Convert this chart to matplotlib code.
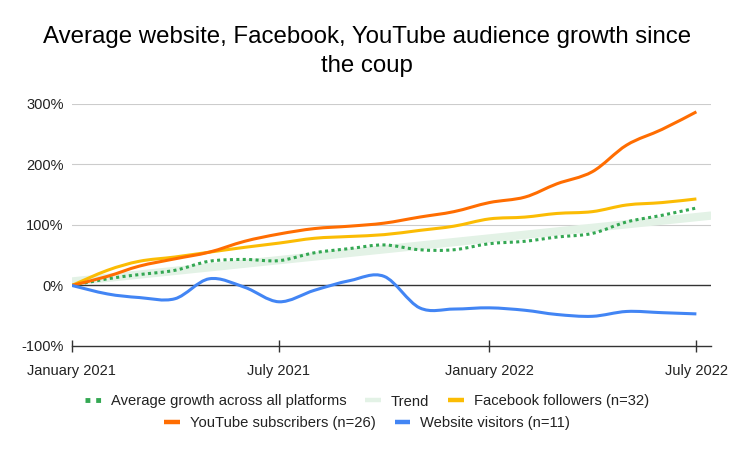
import datetime as dt
import matplotlib
matplotlib.use("Agg")
import matplotlib.pyplot as plt
import matplotlib.dates as mdates
import numpy as np
from matplotlib.path import Path
from matplotlib.patches import PathPatch
from matplotlib.lines import Line2D

plt.rcParams['font.family'] = ['Liberation Sans', 'DejaVu Sans']

# monthly values, Jan 2021 .. Jul 2022 (growth in %)
months = [dt.date(2021 + (m // 12), m % 12 + 1, 1) for m in range(19)]
youtube = [0, 15, 32, 44, 55, 73, 85, 94, 98, 103, 113, 122, 137, 146, 168, 188, 232, 258, 287]
facebook = [0, 25, 40, 47, 55, 63, 70, 78, 81, 84, 91, 98, 110, 113, 119, 122, 133, 137, 143]
website = [0, -14, -20, -22, 11, -3, -27, -8, 8, 15, -37, -39, -37, -41, -48, -51, -43, -45, -47]
average = [0, 11, 18, 25, 40, 43, 41, 54, 61, 67, 59, 59, 69, 73, 80, 86, 105, 116, 128]

labels = ['Average growth across all platforms', 'Trend', 'Facebook followers (n=32)',
          'YouTube subscribers (n=26)', 'Website visitors (n=11)']
c_avg = '#34a853'
c_trend = '#e3f2e6'
c_fb = '#fbbc04'
c_yt = '#ff6d01'
c_web = '#4285f4'


def smooth_path(xs, ys):
    # catmull-rom style bezier through the points
    pts = np.column_stack([xs, ys]).astype(float)
    verts = [pts[0]]
    codes = [Path.MOVETO]
    n = len(pts)
    for i in range(n - 1):
        p0 = pts[i - 1] if i > 0 else pts[i]
        p1 = pts[i]
        p2 = pts[i + 1]
        p3 = pts[i + 2] if i + 2 < n else pts[i + 1]
        c1 = p1 + (p2 - p0) / 6.0
        c2 = p2 - (p3 - p1) / 6.0
        verts += [c1, c2, p2]
        codes += [Path.CURVE4] * 3
    return Path(verts, codes)


fig = plt.figure(figsize=(7.34, 4.54), dpi=100)
ax = fig.add_axes([0.098, 0.238, 0.871, 0.533])

x = mdates.date2num(months)
xmin = mdates.date2num(dt.date(2021, 1, 1))
xmax = mdates.date2num(dt.date(2022, 7, 14))

# trend line (linear fit of the average)
k, b = np.polyfit(x, average, 1)
ax.plot([xmin, xmax], [k * xmin + b, k * xmax + b], color=c_trend, lw=6, zorder=1,
        solid_capstyle='butt')

ax.add_patch(PathPatch(smooth_path(x, average), fill=False, edgecolor=c_avg, lw=2.2,
                       linestyle=(0, (1, 1.1)), capstyle='butt', zorder=3))
ax.add_patch(PathPatch(smooth_path(x, facebook), fill=False, edgecolor=c_fb, lw=2.2, zorder=3))
ax.add_patch(PathPatch(smooth_path(x, youtube), fill=False, edgecolor=c_yt, lw=2.2, zorder=4))
ax.add_patch(PathPatch(smooth_path(x, website), fill=False, edgecolor=c_web, lw=2.2, zorder=4))

ax.set_xlim(xmin, xmax)
ax.set_ylim(-100, 300)
ax.set_yticks([-100, 0, 100, 200, 300])
ax.set_yticklabels(['-100%', '0%', '100%', '200%', '300%'])
ax.axhline(0, color='#333333', lw=1, zorder=2)
for v in [100, 200, 300]:
    ax.axhline(v, color='#cccccc', lw=0.8, zorder=0)

tick_dates = [dt.date(2021, 1, 1), dt.date(2021, 7, 1), dt.date(2022, 1, 1), dt.date(2022, 7, 1)]
ax.set_xticks(mdates.date2num(tick_dates))
ax.set_xticklabels(['January 2021', 'July 2021', 'January 2022', 'July 2022'])

for s in ['top', 'right', 'left']:
    ax.spines[s].set_visible(False)
ax.spines['bottom'].set_color('#333333')
ax.spines['bottom'].set_linewidth(1)
ax.tick_params(axis='y', length=0, labelsize=10.5, colors='#222222', pad=6)
ax.tick_params(axis='x', direction='inout', length=9, width=1, color='#333333',
               labelsize=10.5, labelcolor='#222222', pad=8.5)

fig.text(0.5, 0.942, 'Average website, Facebook, YouTube audience growth since\nthe coup',
         ha='center', va='top', fontsize=17.25, color='#000000', linespacing=1.42)

h_avg = Line2D([], [], color=c_avg, lw=3.5, linestyle=(0, (1, 1.2)), solid_capstyle='butt',
               dash_capstyle='butt')
h_trend = Line2D([], [], color=c_trend, lw=3.2, solid_capstyle='butt')
h_fb = Line2D([], [], color=c_fb, lw=3.2, solid_capstyle='butt')
h_yt = Line2D([], [], color=c_yt, lw=3.2, solid_capstyle='butt')
h_web = Line2D([], [], color=c_web, lw=3.2, solid_capstyle='butt')

leg_kw = dict(frameon=False, fontsize=10.6, handlelength=1.08, handletextpad=0.65,
              columnspacing=1.3, borderpad=0, borderaxespad=0, labelcolor='#222222')
leg1 = fig.legend([h_avg, h_trend, h_fb], labels[:3], loc='center',
                  bbox_to_anchor=(0.5, 1 - 401.5 / 454), ncol=3, **leg_kw)
leg2 = fig.legend([h_yt, h_web], labels[3:], loc='center',
                  bbox_to_anchor=(0.5, 1 - 423.5 / 454), ncol=2, **leg_kw)

fig.savefig('out.png', dpi=100)
